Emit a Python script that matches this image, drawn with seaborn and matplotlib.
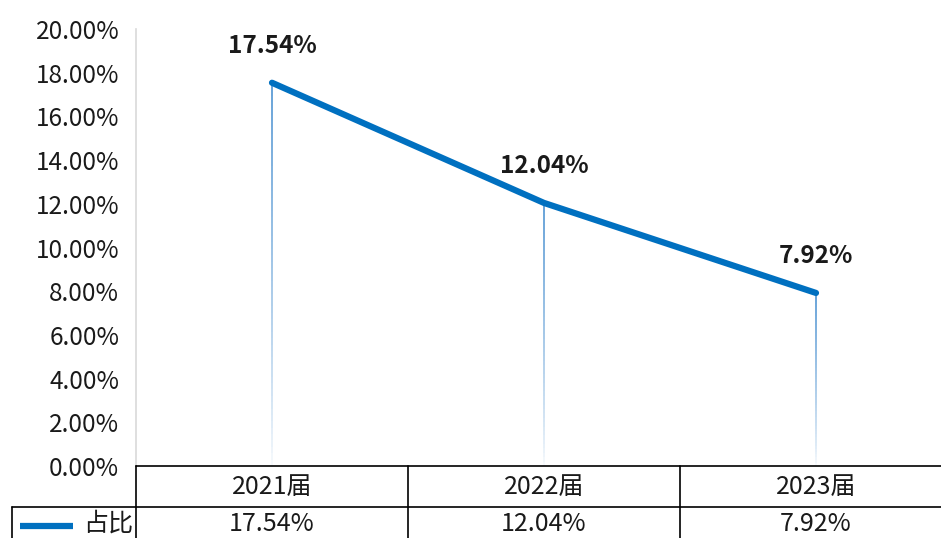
import numpy as np
import pandas as pd
import matplotlib
matplotlib.use("Agg")
import matplotlib.pyplot as plt
import matplotlib.transforms as mtransforms
from matplotlib.collections import LineCollection
import seaborn as sns

categories = ["2021届", "2022届", "2023届"]
values = [17.54, 12.04, 7.92]
series_name = "占比"
yticks = [0, 2, 4, 6, 8, 10, 12, 14, 16, 18, 20]

sns.set_theme(style="white")
plt.rcParams['font.family'] = ['Noto Sans CJK SC', 'DejaVu Sans']

W, H = 941, 538
fig = plt.figure(figsize=(W / 100, H / 100), dpi=100)
left, right, top, bottom = 136, 941, 29, 466
ax = fig.add_axes([left / W, (H - bottom) / H, (right - left) / W, (bottom - top) / H])

BLUE = "#0070C0"
df = pd.DataFrame({"x": np.arange(len(categories)), "v": values})
sns.lineplot(data=df, x="x", y="v", ax=ax, color=BLUE, linewidth=4.5, zorder=5)

# gradient drop lines
for xi, v in zip(df["x"], df["v"]):
    n = 60
    ys = np.linspace(0, v, n + 1)
    segs = [[(xi, ys[i]), (xi, ys[i + 1])] for i in range(n)]
    t = np.linspace(0, 1, n)
    cols = [(0.357, 0.608, 0.835, 0.05 + 0.95 * tt ** 0.8) for tt in t]
    ax.add_collection(LineCollection(segs, colors=cols, linewidths=1.3, zorder=3))

for xi, v in zip(df["x"], df["v"]):
    ax.annotate(f"{v:.2f}%", (xi, v), xytext=(0, 18), textcoords="offset points",
                ha="center", va="bottom", fontsize=17.5, fontweight="bold", color="#1a1a1a")

ax.set_xlim(-0.5, (right - left) / 272 - 0.5)
ax.set_ylim(0, 20)
ax.set_yticks(yticks)
ax.set_yticklabels([f"{t:.2f}%" for t in yticks], fontsize=17.5, color="#1a1a1a")
ax.set_xticks([])
ax.set_xlabel("")
ax.set_ylabel("")
ax.tick_params(axis="y", length=0, pad=12)
for s in ["top", "right", "bottom"]:
    ax.spines[s].set_visible(False)
ax.spines["left"].set_color("#d9d9d9")
ax.spines["left"].set_linewidth(1.2)

# data table below the plot, in figure pixel coordinates
ftr = mtransforms.Affine2D().scale(1 / W, 1 / H) + fig.transFigure
def px(y):
    return H - y

row1_top, row1_bot, row2_bot = 466, 507, 545
lw = 1.2
fig.lines.append(plt.Line2D([136, 941], [px(row1_top)] * 2, transform=ftr, color="black", lw=lw))
fig.lines.append(plt.Line2D([12, 941], [px(row1_bot)] * 2, transform=ftr, color="black", lw=lw))
for xv in [136, 408, 680]:
    fig.lines.append(plt.Line2D([xv, xv], [px(row1_top), px(row2_bot)], transform=ftr, color="black", lw=lw))
fig.lines.append(plt.Line2D([12, 12], [px(row1_bot), px(row2_bot)], transform=ftr, color="black", lw=lw))

col_centers = [272, 544, 816]
for c, cat, v in zip(col_centers, categories, values):
    fig.text(c / W, px(487) / H, cat, ha="center", va="center", fontsize=18, color="#1a1a1a")
    fig.text(c / W, px(524) / H, f"{v:.2f}%", ha="center", va="center", fontsize=18, color="#1a1a1a")

fig.lines.append(plt.Line2D([20, 73], [px(526)] * 2, transform=ftr, color=BLUE, lw=4.5, solid_capstyle="butt"))
fig.text(83 / W, px(524) / H, series_name, ha="left", va="center", fontsize=18, color="#1a1a1a")

fig.savefig("out.png", dpi=100)
